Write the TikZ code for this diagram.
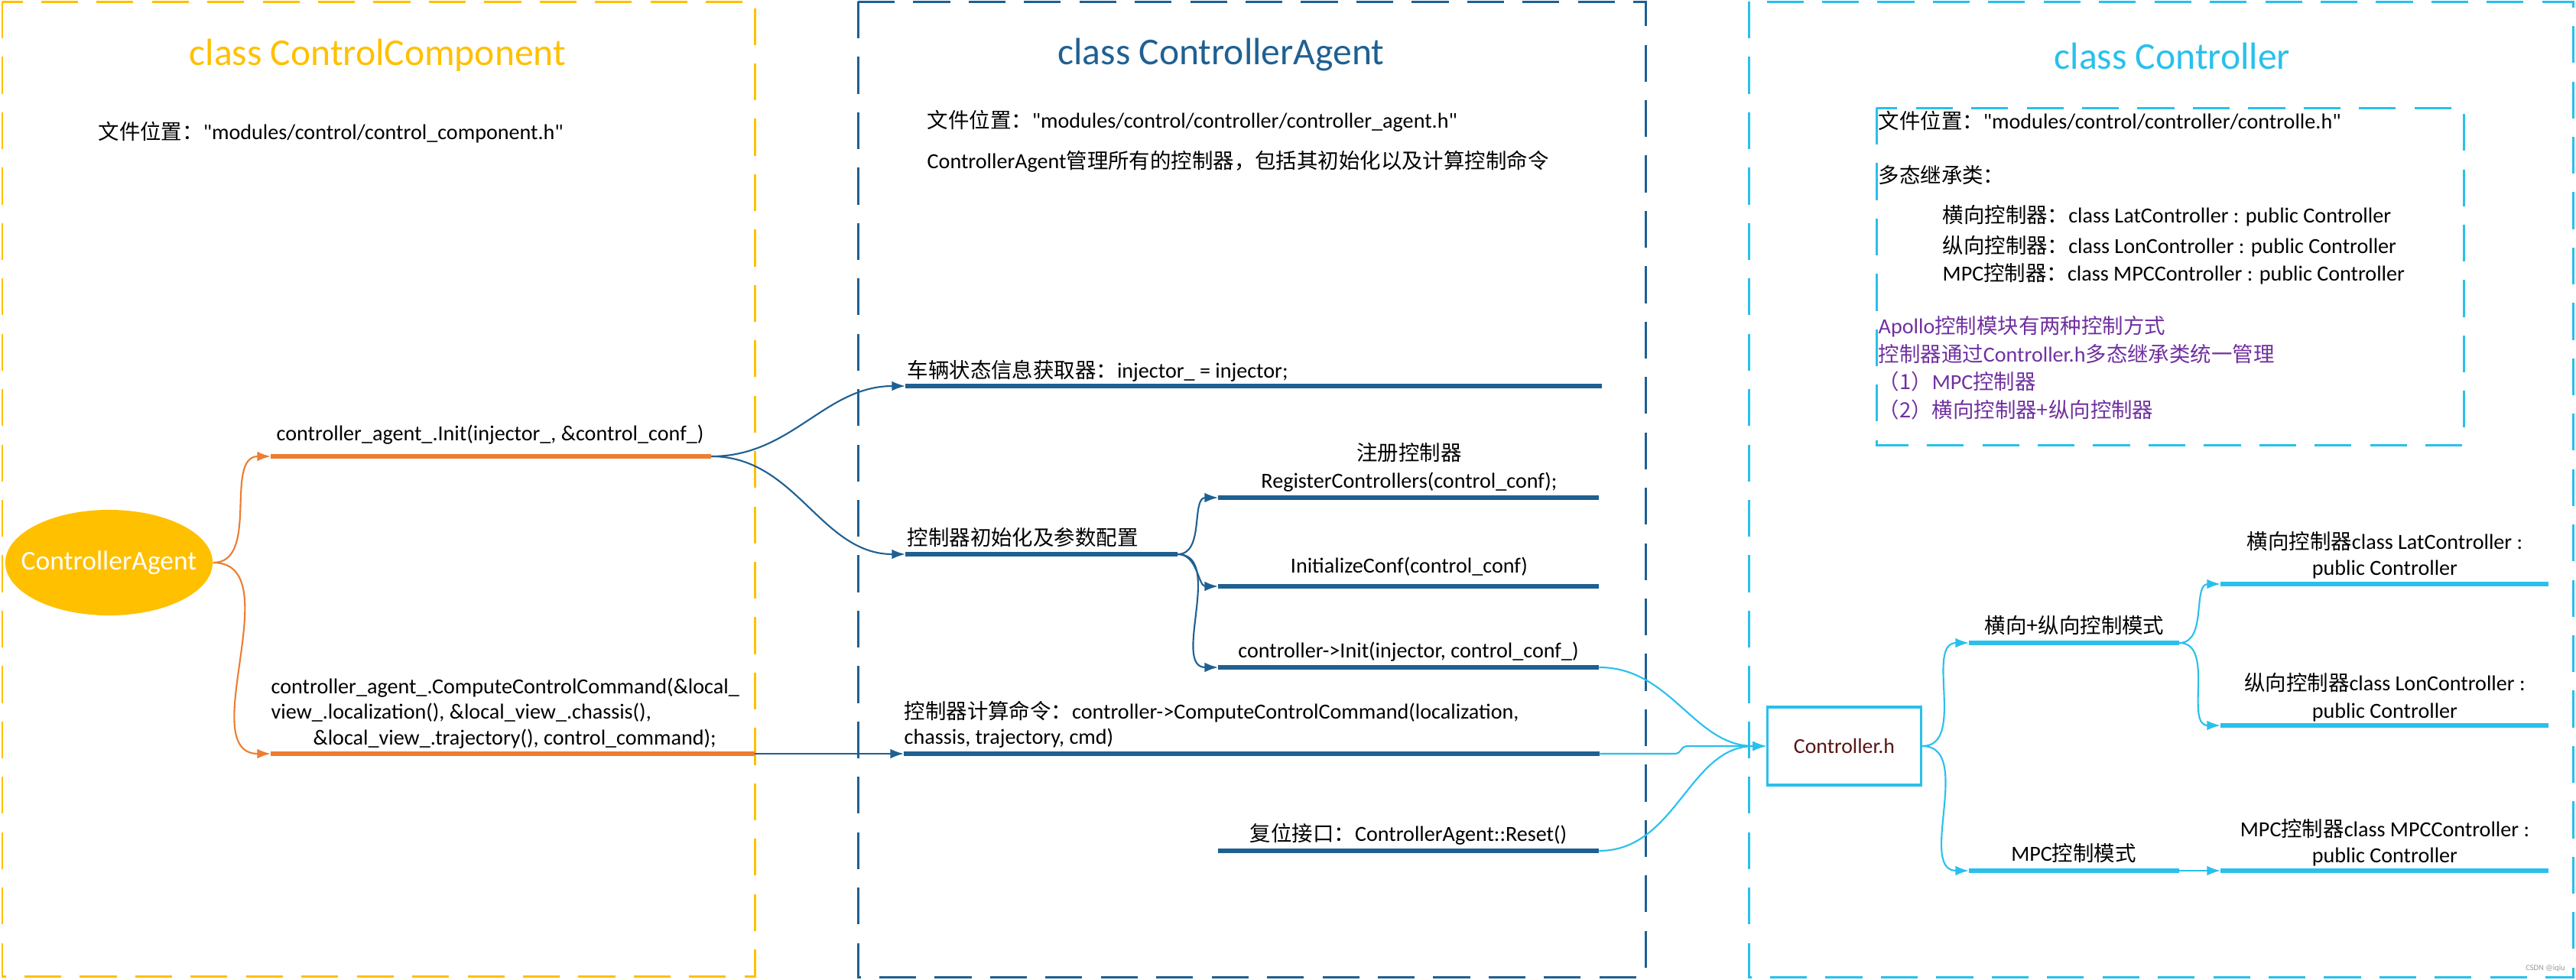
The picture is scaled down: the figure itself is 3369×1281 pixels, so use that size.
\documentclass[tikz,border=0pt]{standalone}
\usepackage{fontspec}
\setmainfont{Carlito}[Ligatures=TeXOff]
\newfontfamily\zhfont{Noto Sans CJK SC}[Scale=0.975, Ligatures=TeXOff]
\newcommand{\zh}[1]{{\zhfont #1}}
\usepackage{tikz}
\usetikzlibrary{calc, arrows.meta, positioning, shapes.geometric}
\definecolor{ccyellow}{RGB}{255,192,0}
\definecolor{ccorange}{RGB}{237,125,49}
\definecolor{ccblue}{RGB}{31,96,146}
\definecolor{cccyan}{RGB}{41,192,236}
\definecolor{ccpurple}{RGB}{112,48,160}
\definecolor{ccbrown}{RGB}{88,22,22}
\tikzstyle{cframe}=[line width=0.85pt, dash pattern=on 13.7pt off 6.9pt]
\tikzstyle{ttl}=[inner sep=0pt, font=\fontsize{14.1}{16}\selectfont]
\tikzstyle{txt}=[inner sep=0pt, align=left, font=\fontsize{8}{9.5}\selectfont]
\tikzstyle{ctxt}=[txt, align=center, font=\fontsize{8}{9.9}\selectfont]
\tikzstyle{bar}=[line width=1.5pt]
\tikzstyle{link}=[line width=0.6pt, out=0, in=180]

\begin{document}
\begin{tikzpicture}[x=0.01cm, y=-0.01cm, >={Latex[length=5pt,width=3.6pt]}]
      \useasboundingbox (0,0) rectangle (3369,1281);

      % frames
      \draw[cframe, ccyellow] (3,2) rectangle (987,1277);
      \draw[cframe, ccblue] (1122,2) rectangle (2152,1278);
      \draw[cframe, cccyan] (2287,2) rectangle (3365,1278);
      \draw[cframe, cccyan] (2454,141) rectangle (3222,582);

      % class ControlComponent
      \node [ttl, text=ccyellow] (ccTitle) at (494,72) {class ControlComponent};
      \node [txt, anchor=west] (ccFile) at (128,173) {\zh{文件位置：}"modules/control/control\_component.h"};
      \node [ellipse, fill=ccyellow, minimum width=2.71cm, minimum height=1.38cm, inner sep=0pt,
             text=white, font=\fontsize{10.1}{12}\selectfont] (agent) at (142.5,736) {\makebox[0pt]{ControllerAgent}};

      \node (initS) [coordinate] at (354,597) {};
      \node (initE) [coordinate, right of=initS, node distance=5.76cm] {};
      \node (compS) [coordinate] at (354,986) {};
      \node (compE) [coordinate, right of=compS, node distance=6.33cm] {};
      \node [txt, anchor=west] (initL) at (361,569) {controller\_agent\_.Init(injector\_, \&control\_conf\_)};
      \node [txt, anchor=west, font=\fontsize{8}{9.5}\selectfont] (compL) at (354,933)
            {controller\_agent\_.ComputeControlCommand(\&local\_\\view\_.localization(), \&local\_view\_.chassis(),\\
             \hspace*{15.6pt}\&local\_view\_.trajectory(), control\_command);};

      % class ControllerAgent
      \node [ttl, text=ccblue] (caTitle) at (1597,72) {class ControllerAgent};
      \node [txt, anchor=west] (caFile) at (1212,158) {\zh{文件位置：}"modules/control/controller/controller\_agent.h"};
      \node [txt, anchor=west] (caDesc) at (1212,211) {ControllerAgent\zh{管理所有的控制器，包括其初始化以及计算控制命令}};

      \node (vehS) [coordinate] at (1184,505) {};
      \node (vehE) [coordinate, right of=vehS, node distance=9.1cm] {};
      \node (setS) [coordinate] at (1184,725) {};
      \node (setE) [coordinate, right of=setS, node distance=3.56cm] {};
      \node (regS) [coordinate] at (1593,651) {};
      \node (regE) [coordinate, right of=regS, node distance=4.98cm] {};
      \node (confS) [coordinate] at (1593,767) {};
      \node (confE) [coordinate, right of=confS, node distance=4.98cm] {};
      \node (ctrlS) [coordinate] at (1593,873) {};
      \node (ctrlE) [coordinate, right of=ctrlS, node distance=4.98cm] {};
      \node (cmdS) [coordinate] at (1182,986) {};
      \node (cmdE) [coordinate, right of=cmdS, node distance=9.09cm] {};
      \node (rstS) [coordinate] at (1593,1113) {};
      \node (rstE) [coordinate, right of=rstS, node distance=4.98cm] {};

      \node [txt, anchor=west] (vehL) at (1186,485) {\zh{车辆状态信息获取器：}injector\_ = injector;};
      \node [txt, anchor=west] (setL) at (1186,703) {\zh{控制器初始化及参数配置}};
      \node [ctxt, font=\fontsize{8}{10.2}\selectfont] (regL) at (1843,611) {\zh{注册控制器}\\RegisterControllers(control\_conf);};
      \node [ctxt] (confL) at (1843,741) {InitializeConf(control\_conf)};
      \node [ctxt] (ctrlL) at (1842,853) {controller->Init(injector, control\_conf\_)};
      \node [txt, anchor=west, font=\fontsize{8}{9.4}\selectfont] (cmdL) at (1182,948)
            {\zh{控制器计算命令：}controller->ComputeControlCommand(localization,\\chassis, trajectory, cmd)};
      \node [ctxt] (rstL) at (1842,1091) {\zh{复位接口：}ControllerAgent::Reset()};

      % class Controller
      \node [ttl, text=cccyan] (cTitle) at (2841,73) {class Controller};
      \node [txt, anchor=west] (cFile) at (2456,158) {\zh{文件位置：}"modules/control/controller/controlle.h"};
      \node [txt, anchor=west] (cPoly) at (2456,229) {\zh{多态继承类：}};
      \node [txt, anchor=west] (cLat) at (2540,282) {\zh{横向控制器：}class LatController : public Controller};
      \node [txt, anchor=west] (cLon) at (2540,322) {\zh{纵向控制器：}class LonController : public Controller};
      \node [txt, anchor=west] (cMpc) at (2540,358) {MPC\zh{控制器：}class MPCController : public Controller};
      \node [txt, anchor=west, text=ccpurple, font=\fontsize{8}{10.4}\selectfont] (cNote) at (2456,481)
            {Apollo\zh{控制模块有两种控制方式}\\\zh{控制器通过}Controller.h\zh{多态继承类统一管理}\\
             \zh{（1）}MPC\zh{控制器}\\\zh{（2）横向控制器+纵向控制器}};

      \node [draw=cccyan, line width=0.9pt, fill=white, minimum width=2.01cm, minimum height=1.02cm,
             text=ccbrown, font=\fontsize{7.9}{9.5}\selectfont] (ch) at (2412,976) {Controller.h};

      \node (modeS) [coordinate] at (2575,841) {};
      \node (modeE) [coordinate, right of=modeS, node distance=2.75cm] {};
      \node (mpcS) [coordinate] at (2575,1139) {};
      \node (mpcE) [coordinate, right of=mpcS, node distance=2.75cm] {};
      \node (latS) [coordinate] at (2904,764) {};
      \node (latE) [coordinate, right of=latS, node distance=4.29cm] {};
      \node (lonS) [coordinate] at (2904,949) {};
      \node (lonE) [coordinate, right of=lonS, node distance=4.29cm] {};
      \node (mpccS) [coordinate] at (2904,1139) {};
      \node (mpccE) [coordinate, right of=mpccS, node distance=4.29cm] {};

      \node [ctxt] (modeL) at (2713,818) {\zh{横向+纵向控制模式}};
      \node [ctxt] (mpcL) at (2712,1116) {MPC\zh{控制模式}};
      \node [ctxt, font=\fontsize{8}{9.7}\selectfont] (latL) at (3119,726) {\zh{横向控制器}class LatController :\\public Controller};
      \node [ctxt, font=\fontsize{8}{10.2}\selectfont] (lonL) at (3119,912) {\zh{纵向控制器}class LonController :\\public Controller};
      \node [ctxt, font=\fontsize{8}{9.7}\selectfont] (mpccL) at (3119,1102) {MPC\zh{控制器}class MPCController :\\public Controller};

      \node [inner sep=0pt, text=black!40, font=\fontsize{3}{3.5}\selectfont] (mark) at (3329,1267) {CSDN @iqiu};

      % bars
      \draw[bar, ccorange] (initS) -- (initE);
      \draw[bar, ccorange] (compS) -- (compE);
      \draw[bar, ccblue] (vehS) -- (vehE);
      \draw[bar, ccblue] (setS) -- (setE);
      \draw[bar, ccblue] (regS) -- (regE);
      \draw[bar, ccblue] (confS) -- (confE);
      \draw[bar, ccblue] (ctrlS) -- (ctrlE);
      \draw[bar, ccblue] (cmdS) -- (cmdE);
      \draw[bar, ccblue] (rstS) -- (rstE);
      \draw[bar, cccyan] (modeS) -- (modeE);
      \draw[bar, cccyan] (mpcS) -- (mpcE);
      \draw[bar, cccyan] (latS) -- (latE);
      \draw[bar, cccyan] (lonS) -- (lonE);
      \draw[bar, cccyan] (mpccS) -- (mpccE);

      % connectors
      \path[->] (agent.east) edge[link, ccorange] (initS);
      \path[->] (agent.east) edge[link, ccorange] (compS);
      \path[->] (initE) edge[link, ccblue] (vehS);
      \path[->] (initE) edge[link, ccblue] (setS);
      \path[->] (compE) edge[line width=0.6pt, ccblue] (cmdS);
      \path[->] (setE) edge[link, ccblue] (regS);
      \path[->] (setE) edge[link, ccblue] (confS);
      \path[->] (setE) edge[link, ccblue] (ctrlS);

      \path[->] (ctrlE) edge[link, cccyan] (ch.west);
      \draw[->, line width=0.6pt, cccyan] (cmdE) -- ++(100,0) to[out=0, in=180] ++(14,-10) -- (ch.west);
      \path[->] (rstE) edge[link, cccyan] (ch.west);
      \path[->] (ch.east) edge[link, cccyan] (modeS);
      \path[->] (ch.east) edge[link, cccyan] (mpcS);
      \path[->] (modeE) edge[link, cccyan] (latS);
      \path[->] (modeE) edge[link, cccyan] (lonS);
      \path[->] (mpcE) edge[line width=0.6pt, cccyan] (mpccS);
\end{tikzpicture}
\end{document}
